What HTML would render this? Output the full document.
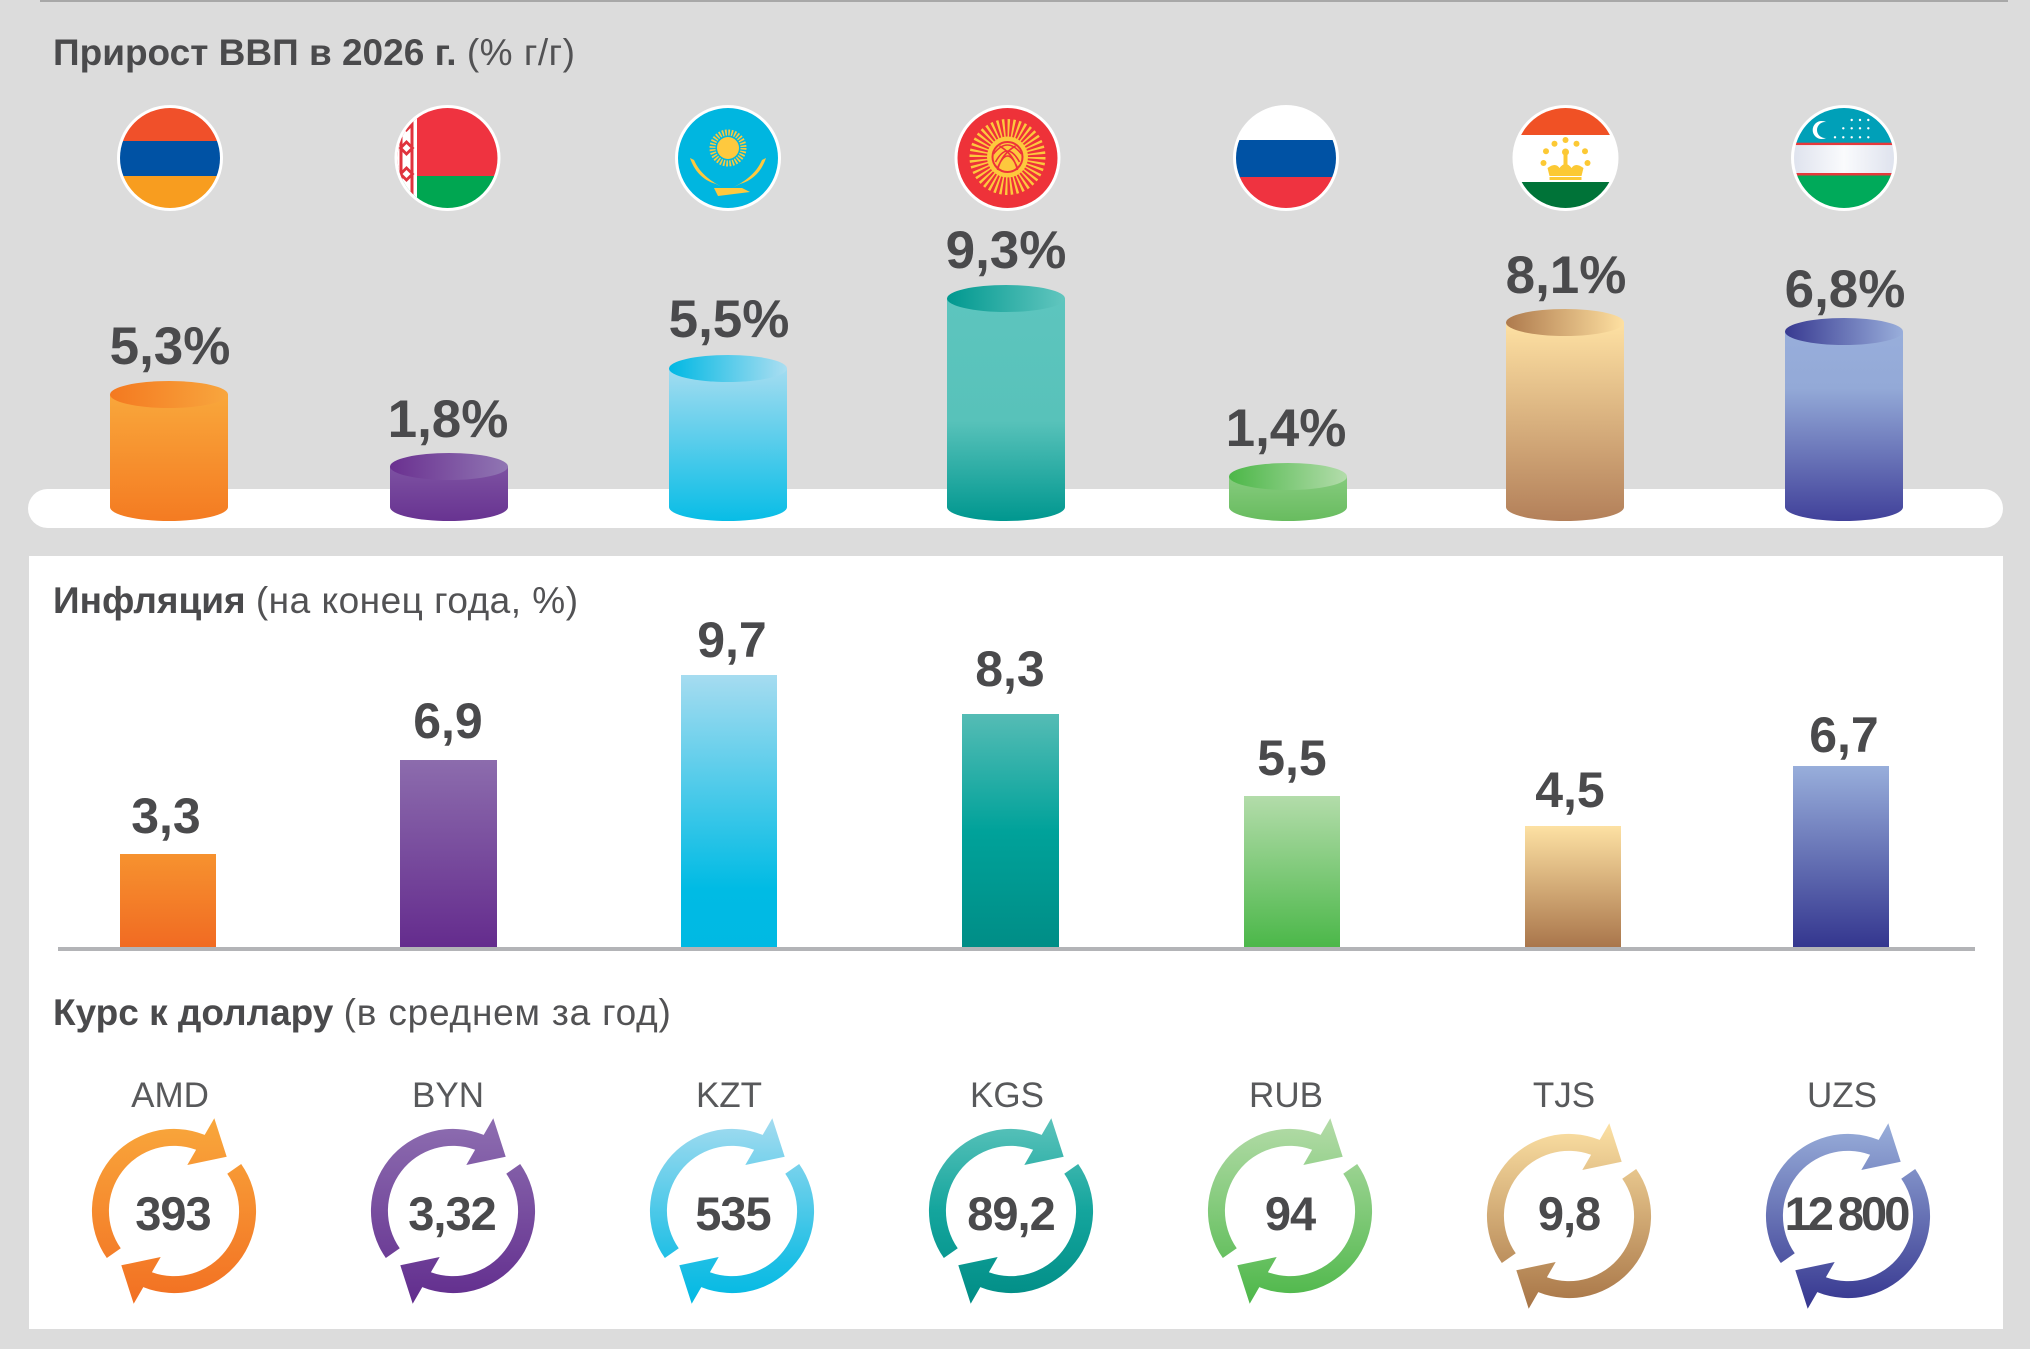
<!DOCTYPE html>
<html><head><meta charset="utf-8"><style>
html,body{margin:0;padding:0;background:#dcdcdc;}
svg{display:block;}
text{font-family:"Liberation Sans",sans-serif;}
</style></head><body>
<svg width="2030" height="1349" viewBox="0 0 2030 1349" xmlns="http://www.w3.org/2000/svg">
<defs>
  <clipPath id="fc"><circle r="50"/></clipPath>
  <path id="ring" d="M -67.17 47.03 A 82 82 0 0 1 30.7 -76.1 L 40.3 -92.7 L 52.7 -54.3 L 13.3 -46 L 22.1 -61.2 A 65 65 0 0 0 -53.25 37.28 Z M 67.17 -47.03 A 82 82 0 0 1 -30.7 76.1 L -40.3 92.7 L -52.7 54.3 L -13.3 46 L -22.1 61.2 A 65 65 0 0 0 53.25 -37.28 Z"/>
  <linearGradient id="rA" gradientUnits="userSpaceOnUse" x1="0" y1="-95" x2="0" y2="95"><stop offset="0" stop-color="#f9a83c"/><stop offset="1" stop-color="#f26f22"/></linearGradient>
  <linearGradient id="rB" gradientUnits="userSpaceOnUse" x1="0" y1="-95" x2="0" y2="95"><stop offset="0" stop-color="#8e6fb1"/><stop offset="1" stop-color="#612c8d"/></linearGradient>
  <linearGradient id="rK" gradientUnits="userSpaceOnUse" x1="0" y1="-95" x2="0" y2="95"><stop offset="0" stop-color="#a6dcf0"/><stop offset="0.75" stop-color="#1fbfe5"/><stop offset="1" stop-color="#00b9e3"/></linearGradient>
  <linearGradient id="rG" gradientUnits="userSpaceOnUse" x1="0" y1="-95" x2="0" y2="95"><stop offset="0" stop-color="#5ec4bc"/><stop offset="0.5" stop-color="#14a59d"/><stop offset="1" stop-color="#008c85"/></linearGradient>
  <linearGradient id="rR" gradientUnits="userSpaceOnUse" x1="0" y1="-95" x2="0" y2="95"><stop offset="0" stop-color="#b6dcaa"/><stop offset="1" stop-color="#4cb748"/></linearGradient>
  <linearGradient id="rT" gradientUnits="userSpaceOnUse" x1="0" y1="-95" x2="0" y2="95"><stop offset="0" stop-color="#fde2a5"/><stop offset="1" stop-color="#a67345"/></linearGradient>
  <linearGradient id="rU" gradientUnits="userSpaceOnUse" x1="0" y1="-95" x2="0" y2="95"><stop offset="0" stop-color="#9ab0db"/><stop offset="1" stop-color="#34348e"/></linearGradient>
  <linearGradient id="bA" x1="0" y1="0" x2="0" y2="1"><stop offset="0" stop-color="#f6922f"/><stop offset="1" stop-color="#f16a22"/></linearGradient>
  <linearGradient id="bB" x1="0" y1="0" x2="0" y2="1"><stop offset="0" stop-color="#8c6cad"/><stop offset="1" stop-color="#642b8d"/></linearGradient>
  <linearGradient id="bK" x1="0" y1="0" x2="0" y2="1"><stop offset="0" stop-color="#a6dcf0"/><stop offset="0.78" stop-color="#00bbe4"/><stop offset="1" stop-color="#00b9e3"/></linearGradient>
  <linearGradient id="bG" x1="0" y1="0" x2="0" y2="1"><stop offset="0" stop-color="#55bcb5"/><stop offset="0.5" stop-color="#00a29a"/><stop offset="1" stop-color="#008d86"/></linearGradient>
  <linearGradient id="bR" x1="0" y1="0" x2="0" y2="1"><stop offset="0" stop-color="#b3dcaa"/><stop offset="1" stop-color="#4ab748"/></linearGradient>
  <linearGradient id="bT" x1="0" y1="0" x2="0" y2="1"><stop offset="0" stop-color="#fde1a3"/><stop offset="1" stop-color="#a8744a"/></linearGradient>
  <linearGradient id="bU" x1="0" y1="0" x2="0" y2="1"><stop offset="0" stop-color="#98aedb"/><stop offset="1" stop-color="#33358e"/></linearGradient>
  <linearGradient id="cA" x1="0" y1="0" x2="0" y2="1"><stop offset="0" stop-color="#f9a73b"/><stop offset="1" stop-color="#f47b22"/></linearGradient>
  <linearGradient id="cB" x1="0" y1="0" x2="0" y2="1"><stop offset="0" stop-color="#7d52a2"/><stop offset="1" stop-color="#683391"/></linearGradient>
  <linearGradient id="cK" x1="0" y1="0" x2="0" y2="1"><stop offset="0" stop-color="#a3dcf0"/><stop offset="1" stop-color="#08bde6"/></linearGradient>
  <linearGradient id="cG" x1="0" y1="0" x2="0" y2="1"><stop offset="0" stop-color="#5dc5be"/><stop offset="0.55" stop-color="#58c2ba"/><stop offset="1" stop-color="#00978f"/></linearGradient>
  <linearGradient id="cR" x1="0" y1="0" x2="0" y2="1"><stop offset="0" stop-color="#86cb7e"/><stop offset="1" stop-color="#68bc5f"/></linearGradient>
  <linearGradient id="cT" x1="0" y1="0" x2="0" y2="1"><stop offset="0" stop-color="#fee1a3"/><stop offset="1" stop-color="#b3805a"/></linearGradient>
  <linearGradient id="cU" x1="0" y1="0" x2="0" y2="1"><stop offset="0" stop-color="#98aedb"/><stop offset="0.3" stop-color="#93a9d7"/><stop offset="1" stop-color="#41419a"/></linearGradient>
  <linearGradient id="tA" x1="0" y1="0" x2="1" y2="0"><stop offset="0" stop-color="#f47920"/><stop offset="1" stop-color="#f8a63e"/></linearGradient>
  <linearGradient id="tB" x1="0" y1="0" x2="1" y2="0"><stop offset="0" stop-color="#6a3090"/><stop offset="1" stop-color="#9076b3"/></linearGradient>
  <linearGradient id="tK" x1="0" y1="0" x2="1" y2="0"><stop offset="0" stop-color="#00b8e3"/><stop offset="1" stop-color="#abdef1"/></linearGradient>
  <linearGradient id="tG" x1="0" y1="0" x2="1" y2="0"><stop offset="0" stop-color="#00988f"/><stop offset="1" stop-color="#62c6bf"/></linearGradient>
  <linearGradient id="tR" x1="0" y1="0" x2="1" y2="0"><stop offset="0" stop-color="#4cb748"/><stop offset="1" stop-color="#b3dcab"/></linearGradient>
  <linearGradient id="tT" x1="0" y1="0" x2="1" y2="0"><stop offset="0" stop-color="#ae7a4d"/><stop offset="1" stop-color="#fee0a1"/></linearGradient>
  <linearGradient id="tU" x1="0" y1="0" x2="1" y2="0"><stop offset="0" stop-color="#383a91"/><stop offset="1" stop-color="#99aedb"/></linearGradient>
  <linearGradient id="uzw" x1="0" y1="0" x2="1" y2="0"><stop offset="0" stop-color="#dfe3ee"/><stop offset="0.5" stop-color="#fafbfd"/><stop offset="1" stop-color="#dfe3ee"/></linearGradient>
</defs>

<rect x="0" y="0" width="2030" height="1349" fill="#dcdcdc"/>
<rect x="40" y="0" width="1968" height="2" fill="#a8a8a8"/>

<text x="53" y="65" font-size="37" font-weight="bold" fill="#4a4a4c">Прирост ВВП в 2026 г. <tspan font-weight="normal" fill="#525254" letter-spacing="0.5">(% г/г)</tspan></text>

<g transform="translate(170,158)">
  <circle r="53" fill="#fff"/>
  <g clip-path="url(#fc)">
    <rect x="-50" y="-50" width="100" height="33" fill="#f0502a"/>
    <rect x="-50" y="-17" width="100" height="35" fill="#0052a4"/>
    <rect x="-50" y="18" width="100" height="32" fill="#f89d1f"/>
  </g>
</g>
<g transform="translate(447.5,158)">
  <circle r="53" fill="#fff"/>
  <g clip-path="url(#fc)">
    <rect x="-50" y="-50" width="100" height="68" fill="#ef3340"/>
    <rect x="-50" y="18" width="100" height="32" fill="#00a651"/>
    <rect x="-50" y="-50" width="19.5" height="100" fill="#fff"/>
    <g fill="#e0333d">
      <path d="M-41 -38 l6 6 -6 6 -6 -6z M-41 -18 l8 8 -8 8 -8 -8z M-41 8 l8 8 -8 8 -8 -8z M-41 30 l6 6 -6 6 -6 -6z"/>
      <rect x="-37" y="-50" width="3" height="100"/>
      <rect x="-48" y="-50" width="3" height="100"/>
    </g>
    <g fill="#fff"><path d="M-41 -14 l4 4 -4 4 -4 -4z M-41 12 l4 4 -4 4 -4 -4z"/></g>
  </g>
</g>
<g transform="translate(728,158)">
  <circle r="53" fill="#fff"/>
  <g clip-path="url(#fc)">
    <rect x="-50" y="-50" width="100" height="100" fill="#00b6e0"/>
    <circle cx="0" cy="-10" r="15.5" fill="none" stroke="#fec93e" stroke-width="6" stroke-dasharray="1.6 1.45"/>
    <circle cx="0" cy="-10" r="11" fill="#fec93e"/>
    <path d="M-38 0 C-34 12 -26 22 -12 26 L-4 30 C-16 24 -28 16 -34 2 Z" fill="#fec93e"/>
    <path d="M38 0 C34 12 26 22 12 26 L4 30 C16 24 28 16 34 2 Z" fill="#fec93e"/>
    <path d="M-14 30 L14 30 L22 34 L-10 38 Z" fill="#fec93e"/>
  </g>
</g>
<g transform="translate(1007.5,158)">
  <circle r="53" fill="#fff"/>
  <g clip-path="url(#fc)">
    <rect x="-50" y="-50" width="100" height="100" fill="#ee3239"/>
    <circle cx="0" cy="-1" r="29" fill="none" stroke="#fdc83d" stroke-width="18" stroke-dasharray="2 2.55"/>
    <circle cx="0" cy="-1" r="20.5" fill="#fdc83d"/>
    <circle cx="0" cy="-1" r="15" fill="none" stroke="#ee3239" stroke-width="2"/>
    <path d="M-14 -4 Q0 -22 14 -4 M-12 4 Q0 -18 12 4 M-10 10 Q0 -14 10 10 M-8 -12 Q6 -4 10 12 M8 -12 Q-6 -4 -10 12" fill="none" stroke="#ee3239" stroke-width="1.6"/>
  </g>
</g>
<g transform="translate(1286,158)">
  <circle r="53" fill="#fff"/>
  <g clip-path="url(#fc)">
    <rect x="-50" y="-50" width="100" height="32" fill="#ffffff"/>
    <rect x="-50" y="-18" width="100" height="37" fill="#0052a4"/>
    <rect x="-50" y="19" width="100" height="31" fill="#ef3340"/>
  </g>
</g>
<g transform="translate(1565.5,158)">
  <circle r="53" fill="#fff"/>
  <g clip-path="url(#fc)">
    <rect x="-50" y="-50" width="100" height="27" fill="#f05125"/>
    <rect x="-50" y="-23" width="100" height="47" fill="#ffffff"/>
    <rect x="-50" y="24" width="100" height="26" fill="#007338"/>
    <g fill="#fcc934">
      <circle cx="0" cy="-18" r="3"/><circle cx="-11" cy="-14.3" r="3"/><circle cx="11" cy="-14.3" r="3"/>
      <circle cx="-19.5" cy="-6.7" r="3"/><circle cx="19.5" cy="-6.7" r="3"/>
      <circle cx="-22" cy="5" r="3"/><circle cx="22" cy="5" r="3"/>
      <path d="M-18 10 Q-10 4 -6 10 Q0 2 6 10 Q10 4 18 10 L16 18 L-16 18 Z"/>
      <rect x="-2" y="-6" width="4" height="14"/>
      <circle cx="0" cy="-6" r="3.5"/>
      <rect x="-16" y="19" width="32" height="3"/>
    </g>
  </g>
</g>
<g transform="translate(1844,158)">
  <circle r="53" fill="#fff"/>
  <g clip-path="url(#fc)">
    <rect x="-50" y="-50" width="100" height="35" fill="#00a0b8"/>
    <rect x="-50" y="-15.3" width="100" height="2.5" fill="#e6393b"/>
    <rect x="-50" y="-12.8" width="100" height="28" fill="url(#uzw)"/>
    <rect x="-50" y="15" width="100" height="2.5" fill="#e6393b"/>
    <rect x="-50" y="17.5" width="100" height="33" fill="#00aa5a"/>
    <circle cx="-22.3" cy="-28" r="9" fill="#fff"/>
    <circle cx="-19" cy="-28" r="8" fill="#00a0b8"/>
    <g fill="#fff">
      <circle cx="7.7" cy="-38" r="1.2"/><circle cx="16" cy="-38" r="1.2"/><circle cx="24.3" cy="-38" r="1.2"/>
      <circle cx="-0.7" cy="-29.7" r="1.2"/><circle cx="7.7" cy="-29.7" r="1.2"/><circle cx="16" cy="-29.7" r="1.2"/><circle cx="24.3" cy="-29.7" r="1.2"/>
      <circle cx="-9" cy="-20.7" r="1.2"/><circle cx="-0.7" cy="-20.7" r="1.2"/><circle cx="7.7" cy="-20.7" r="1.2"/><circle cx="16" cy="-20.7" r="1.2"/><circle cx="24.3" cy="-20.7" r="1.2"/>
    </g>
  </g>
</g>

<rect x="28" y="489" width="1975" height="39" rx="19.5" ry="19.5" fill="#ffffff"/>

<g>
  <path d="M110 394.5 L110 507 A59 14 0 0 0 228 507 L228 394.5 Z" fill="url(#cA)"/>
  <ellipse cx="169" cy="394.5" rx="59" ry="13.5" fill="url(#tA)"/>
  <path d="M390 466.5 L390 507 A59 14 0 0 0 508 507 L508 466.5 Z" fill="url(#cB)"/>
  <ellipse cx="449" cy="466.5" rx="59" ry="13.5" fill="url(#tB)"/>
  <path d="M669 368.5 L669 507 A59 14 0 0 0 787 507 L787 368.5 Z" fill="url(#cK)"/>
  <ellipse cx="728" cy="368.5" rx="59" ry="13.5" fill="url(#tK)"/>
  <path d="M947 298.5 L947 507 A59 14 0 0 0 1065 507 L1065 298.5 Z" fill="url(#cG)"/>
  <ellipse cx="1006" cy="298.5" rx="59" ry="13.5" fill="url(#tG)"/>
  <path d="M1229 476.5 L1229 507 A59 14 0 0 0 1347 507 L1347 476.5 Z" fill="url(#cR)"/>
  <ellipse cx="1288" cy="476.5" rx="59" ry="13.5" fill="url(#tR)"/>
  <path d="M1506 322.5 L1506 507 A59 14 0 0 0 1624 507 L1624 322.5 Z" fill="url(#cT)"/>
  <ellipse cx="1565" cy="322.5" rx="59" ry="13.5" fill="url(#tT)"/>
  <path d="M1785 331.5 L1785 507 A59 14 0 0 0 1903 507 L1903 331.5 Z" fill="url(#cU)"/>
  <ellipse cx="1844" cy="331.5" rx="59" ry="13.5" fill="url(#tU)"/>
</g>

<g font-size="53" font-weight="bold" fill="#4a4a4c" text-anchor="middle">
  <text x="170" y="364">5,3%</text>
  <text x="448" y="437">1,8%</text>
  <text x="729" y="337">5,5%</text>
  <text x="1006" y="268">9,3%</text>
  <text x="1286" y="446">1,4%</text>
  <text x="1566" y="293">8,1%</text>
  <text x="1845" y="307">6,8%</text>
</g>

<rect x="29" y="556" width="1974" height="773" fill="#ffffff"/>

<text x="53" y="613" font-size="37" font-weight="bold" fill="#4a4a4c">Инфляция <tspan font-weight="normal" fill="#525254" letter-spacing="0.5">(на конец года, %)</tspan></text>

<rect x="120" y="854" width="96" height="95" fill="url(#bA)"/>
<rect x="400" y="760" width="97" height="189" fill="url(#bB)"/>
<rect x="681" y="675" width="96" height="274" fill="url(#bK)"/>
<rect x="962" y="714" width="97" height="235" fill="url(#bG)"/>
<rect x="1244" y="796" width="96" height="153" fill="url(#bR)"/>
<rect x="1525" y="826" width="96" height="123" fill="url(#bT)"/>
<rect x="1793" y="766" width="96" height="183" fill="url(#bU)"/>
<rect x="58" y="947" width="1917" height="4" fill="#b3b4b7"/>

<g font-size="50" font-weight="bold" fill="#4a4a4c" text-anchor="middle">
  <text x="166" y="833">3,3</text>
  <text x="448" y="738">6,9</text>
  <text x="732" y="657">9,7</text>
  <text x="1010" y="686">8,3</text>
  <text x="1292" y="775">5,5</text>
  <text x="1570" y="807">4,5</text>
  <text x="1844" y="752">6,7</text>
</g>

<text x="53" y="1025" font-size="37" font-weight="bold" fill="#4a4a4c">Курс к доллару <tspan font-weight="normal" fill="#525254" letter-spacing="0.8">(в среднем за год)</tspan></text>

<g font-size="35" fill="#58595b" text-anchor="middle">
  <text x="170" y="1107">AMD</text>
  <text x="448" y="1107">BYN</text>
  <text x="729" y="1107">KZT</text>
  <text x="1007" y="1107">KGS</text>
  <text x="1286" y="1107">RUB</text>
  <text x="1564" y="1107">TJS</text>
  <text x="1842" y="1107">UZS</text>
</g>

<use href="#ring" transform="translate(174,1211)" fill="url(#rA)"/>
<use href="#ring" transform="translate(453,1211)" fill="url(#rB)"/>
<use href="#ring" transform="translate(732,1211)" fill="url(#rK)"/>
<use href="#ring" transform="translate(1011,1211)" fill="url(#rG)"/>
<use href="#ring" transform="translate(1290,1211)" fill="url(#rR)"/>
<use href="#ring" transform="translate(1569,1216)" fill="url(#rT)"/>
<use href="#ring" transform="translate(1848,1216)" fill="url(#rU)"/>

<g font-size="47" font-weight="bold" fill="#4a4a4c" text-anchor="middle" letter-spacing="-1">
  <text x="173" y="1230">393</text>
  <text x="452" y="1230">3,32</text>
  <text x="733" y="1230">535</text>
  <text x="1011" y="1230">89,2</text>
  <text x="1290" y="1230">94</text>
  <text x="1569" y="1230">9,8</text>
  <text x="1846" y="1230" letter-spacing="-3">12<tspan dx="7">800</tspan></text>
</g>
</svg>
</body></html>
